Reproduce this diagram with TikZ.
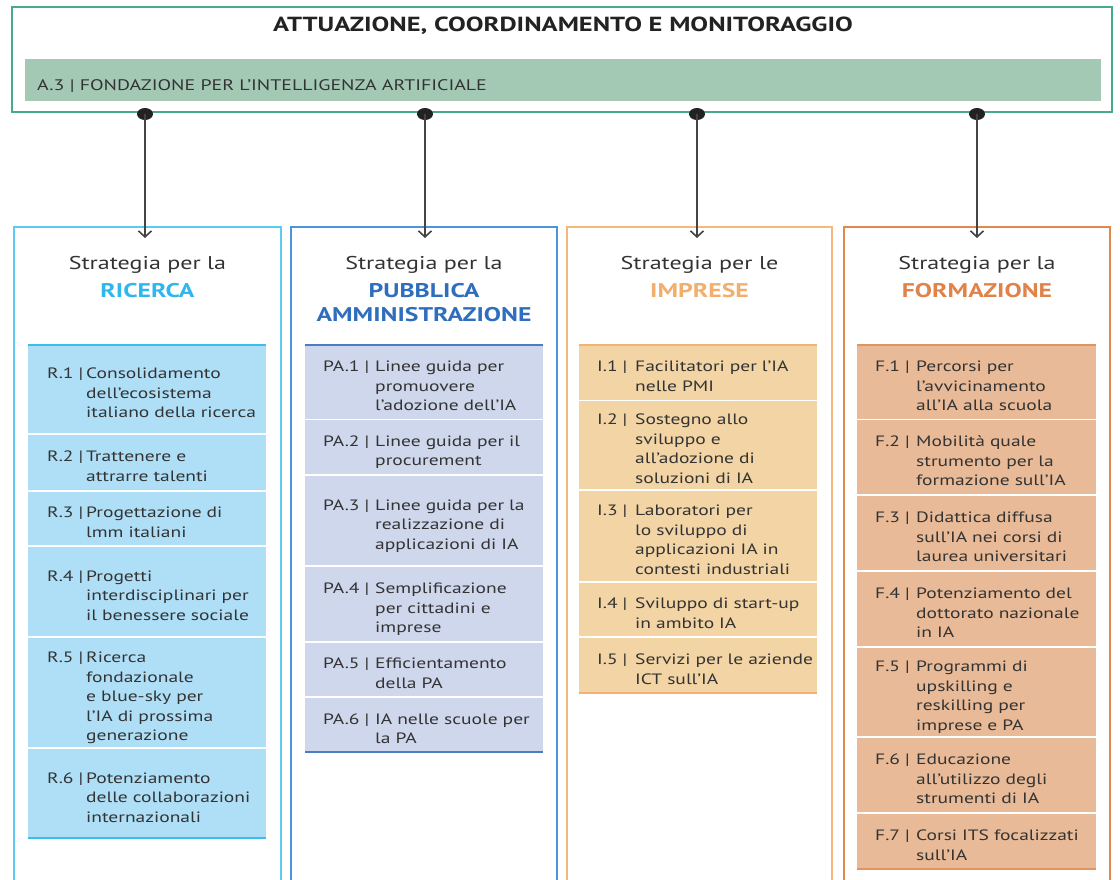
\documentclass[tikz,border=0pt]{standalone}
\usepackage{fontspec}
\setmainfont{PT Sans}[FakeStretch=1.3]
\usetikzlibrary{arrows.meta,shapes.geometric}
\definecolor{grn}{HTML}{48AB87}
\definecolor{barfill}{HTML}{A3C9B5}
\definecolor{txt}{HTML}{333333}
\definecolor{ttl}{HTML}{222222}
\definecolor{arrc}{HTML}{444444}
\definecolor{cAb}{HTML}{5BCBF2}\definecolor{cAh}{HTML}{2DB7EC}\definecolor{cAf}{HTML}{AEDFF7}\definecolor{cAl}{HTML}{3DBDEC}
\definecolor{cBb}{HTML}{4E93DC}\definecolor{cBh}{HTML}{2F6EBD}\definecolor{cBf}{HTML}{CED7EC}\definecolor{cBl}{HTML}{4C7DC2}
\definecolor{cCb}{HTML}{F4B77C}\definecolor{cCh}{HTML}{F1AE6C}\definecolor{cCf}{HTML}{F2D4A5}\definecolor{cCl}{HTML}{F0B374}
\definecolor{cDb}{HTML}{E2884F}\definecolor{cDh}{HTML}{E0834A}\definecolor{cDf}{HTML}{E8BA97}\definecolor{cDl}{HTML}{E19460}
\newcommand\itm[3]{\noindent\raisebox{-5pt}[\height][\depth]{\makebox[#1][l]{#2}\begin{tabular}[t]{@{}l@{}}#3\end{tabular}}}
\tikzset{
  colbox/.style={draw, line width=1.6pt, minimum width=#1, minimum height=673pt, inner sep=0pt},
  hdr/.style={anchor=base, font=\fontsize{18.5}{22}\selectfont, text=txt},
  hdrb/.style={anchor=base, font=\bfseries\fontsize{19.8}{24}\selectfont},
  itembase/.style={anchor=north west, inner ysep=0pt, inner xsep=18pt, minimum width=238pt,
     text width=202pt, align=left, font=\fontsize{15}{19.5}\selectfont, text=txt},
  itA/.style={itembase, fill=cAf, inner xsep=19pt, text width=200pt},
  itB/.style={itembase, fill=cBf},
  itC/.style={itembase, fill=cCf},
  itD/.style={itembase, fill=cDf, minimum width=239pt, text width=203pt},
  dot/.style={ellipse, fill=ttl, minimum width=16pt, minimum height=12pt, inner sep=0pt},
  arr/.style={draw=arrc, line width=1.8pt, -{Straight Barb[length=6pt,width=13pt,line width=1.6pt]}},
  topline/.style={line width=2pt}
}
\begin{document}
\begin{tikzpicture}[x=1pt,y=-1pt]
\useasboundingbox (0,0) rectangle (1120,879);
% top box
\node[draw=grn, line width=2pt, minimum width=1100pt, minimum height=105pt, inner sep=0pt] (top) at (562,59.5) {};
\node[anchor=base, font=\bfseries\fontsize{20.4}{24}\selectfont, text=ttl] (title) at (563,31) {ATTUAZIONE, COORDINAMENTO E MONITORAGGIO};
\node[fill=barfill, minimum width=1076pt, minimum height=42pt, inner sep=0pt] (bar) at (563,80) {};
\node[anchor=base west, inner sep=0pt, font=\fontsize{15.3}{18}\selectfont, text=txt] (a3) at (37,90.5) {A.3 | FONDAZIONE PER L’INTELLIGENZA ARTIFICIALE};
% columns
\node[colbox=267pt, draw=cAb] (c1) at (147.5,563.5) {};
\node[colbox=266pt, draw=cBb] (c2) at (424,563.5) {};
\node[colbox=265pt, draw=cCb] (c3) at (699.5,563.5) {};
\node[colbox=266pt, draw=cDb] (c4) at (977,563.5) {};
% connectors
\foreach \i/\x in {1/145,2/425,3/697,4/977}{
  \node[dot] (d\i) at (\x,114) {};
  \coordinate (t\i) at (\x,238);
  \draw[arr] (d\i.center) -- (t\i);
}
% headers
\node[hdr] (h1a) at (147.5,269) {Strategia per la};
\node[hdrb, text=cAh] (h1b) at (147.5,297) {RICERCA};
\node[hdr] (h2a) at (424,269) {Strategia per la};
\node[hdrb, text=cBh] (h2b) at (424,297) {PUBBLICA};
\node[hdrb, text=cBh] (h2c) at (424,321) {AMMINISTRAZIONE};
\node[hdr] (h3a) at (699.5,269) {Strategia per le};
\node[hdrb, text=cCh] (h3b) at (699.5,297) {IMPRESE};
\node[hdr] (h4a) at (977,269) {Strategia per la};
\node[hdrb, text=cDh] (h4b) at (977,297) {FORMAZIONE};
% column 1 items
\node[itA, minimum height=88pt] (r1) at (28,345) {\itm{39pt}{R.1 |}{Consolidamento\\dell’ecosistema\\italiano della ricerca}};
\node[itA, minimum height=55pt] (r2) at (28,435) {\itm{39pt}{R.2 |}{Trattenere e\\attrarre talenti}};
\node[itA, minimum height=53pt] (r3) at (28,492) {\itm{39pt}{R.3 |}{Progettazione di\\lmm italiani}};
\node[itA, minimum height=89pt] (r4) at (28,547) {\itm{39pt}{R.4 |}{Progetti\\interdisciplinari per\\il benessere sociale}};
\node[itA, minimum height=109pt] (r5) at (28,638) {\itm{39pt}{R.5 |}{Ricerca\\fondazionale\\e blue-sky per\\l’IA di prossima\\generazione}};
\node[itA, minimum height=89pt] (r6) at (28,749) {\itm{39pt}{R.6 |}{Potenziamento\\delle collaborazioni\\internazionali}};
\draw[topline, cAl] (r1.north west) -- (r1.north east);
\draw[topline, cAl] (r6.south west) -- (r6.south east);
% column 2 items
\node[itB, minimum height=74pt] (p1) at (305,345) {\itm{52pt}{PA.1 |}{Linee guida per\\promuovere\\l’adozione dell’IA}};
\node[itB, minimum height=54pt] (p2) at (305,420) {\itm{52pt}{PA.2 |}{Linee guida per il\\procurement}};
\node[itB, minimum height=89pt] (p3) at (305,476) {\itm{52pt}{PA.3 |}{Linee guida per la\\realizzazione di\\applicazioni di IA}};
\node[itB, minimum height=74pt] (p4) at (305,567) {\itm{52pt}{PA.4 |}{Semplificazione\\per cittadini e\\imprese}};
\node[itB, minimum height=53pt] (p5) at (305,643) {\itm{52pt}{PA.5 |}{Efficientamento\\della PA}};
\node[itB, minimum height=54pt] (p6) at (305,698) {\itm{52pt}{PA.6 |}{IA nelle scuole per\\la PA}};
\draw[topline, cBl] (p1.north west) -- (p1.north east);
\draw[topline, cBl] (p6.south west) -- (p6.south east);
% column 3 items
\node[itC, minimum height=55pt] (i1) at (579,345) {\itm{38pt}{I.1 |}{Facilitatori per l’IA\\nelle PMI}};
\node[itC, minimum height=88pt] (i2) at (579,401) {\itm{38pt}{I.2 |}{Sostegno allo\\sviluppo e\\all’adozione di\\soluzioni di IA}};
\node[itC, minimum height=90pt] (i3) at (579,491) {\itm{38pt}{I.3 |}{Laboratori per\\lo sviluppo di\\applicazioni IA in\\contesti industriali}};
\node[itC, minimum height=53pt] (i4) at (579,583) {\itm{38pt}{I.4 |}{Sviluppo di start-up\\in ambito IA}};
\node[itC, minimum height=55pt] (i5) at (579,638) {\itm{38pt}{I.5 |}{Servizi per le aziende\\ICT sull’IA}};
\draw[topline, cCl] (i1.north west) -- (i1.north east);
\draw[topline, cCl] (i5.south west) -- (i5.south east);
% column 4 items
\node[itD, minimum height=74pt] (f1) at (857,345) {\itm{41pt}{F.1 |}{Percorsi per\\l’avvicinamento\\all’IA alla scuola}};
\node[itD, minimum height=74pt] (f2) at (857,420) {\itm{41pt}{F.2 |}{Mobilità quale\\strumento per la\\formazione sull’IA}};
\node[itD, minimum height=74pt] (f3) at (857,496) {\itm{41pt}{F.3 |}{Didattica diffusa\\sull’IA nei corsi di\\laurea universitari}};
\node[itD, minimum height=74pt] (f4) at (857,572) {\itm{41pt}{F.4 |}{Potenziamento del\\dottorato nazionale\\in IA}};
\node[itD, minimum height=88pt] (f5) at (857,648) {\itm{41pt}{F.5 |}{Programmi di\\upskilling e\\reskilling per\\imprese e PA}};
\node[itD, minimum height=74pt] (f6) at (857,738) {\itm{41pt}{F.6 |}{Educazione\\all’utilizzo degli\\strumenti di IA}};
\node[itD, minimum height=55pt] (f7) at (857,814) {\itm{41pt}{F.7 |}{Corsi ITS focalizzati\\sull’IA}};
\draw[topline, cDl] (f1.north west) -- (f1.north east);
\draw[topline, cDl] (f7.south west) -- (f7.south east);
\end{tikzpicture}
\end{document}
